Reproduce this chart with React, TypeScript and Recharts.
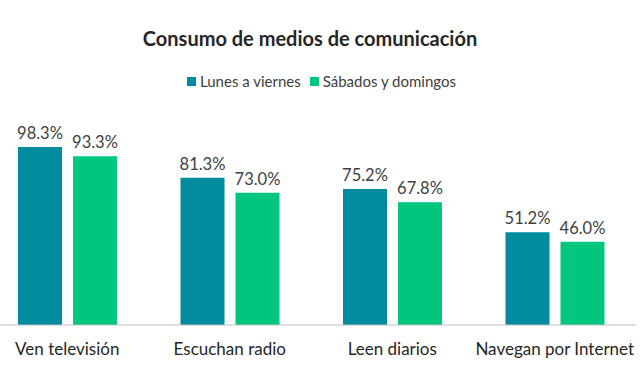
import React from 'react';
import { BarChart, Bar, XAxis, YAxis, LabelList } from 'recharts';

const categories = ['Ven televisión', 'Escuchan radio', 'Leen diarios', 'Navegan por Internet'];
const weekdays = [98.3, 81.3, 75.2, 51.2];
const weekends = [93.3, 73.0, 67.8, 46.0];

const seriesNames = ['Lunes a viernes', 'Sábados y domingos'];
const colors = ['#008C9E', '#00C77D'];

const data = categories.map((name, i) => ({
    name,
    weekdays: weekdays[i],
    weekends: weekends[i],
}));

const font = 'Lato, "Open Sans", sans-serif';

const fmt = (v: any) => `${Number(v).toFixed(1)}%`;

const App: React.FC = () => {
    return (
        <div style={{ position: 'absolute', left: -14, top: 0, width: 650, height: 380 }}>
            <div
                style={{
                    position: 'absolute',
                    left: 14,
                    width: 620,
                    top: 26,
                    textAlign: 'center',
                    fontFamily: font,
                    fontWeight: 700,
                    fontSize: 20,
                    color: '#262626',
                }}
            >
                Consumo de medios de comunicación
            </div>
            <div
                style={{
                    position: 'absolute',
                    left: 30,
                    width: 620,
                    top: 72,
                    display: 'flex',
                    justifyContent: 'center',
                    fontFamily: font,
                    fontSize: 15,
                    color: '#404040',
                }}
            >
                {seriesNames.map((s, i) => (
                    <div key={s} style={{ display: 'flex', alignItems: 'center', marginRight: 9 }}>
                        <span style={{ width: 9, height: 9, background: colors[i], display: 'inline-block', marginRight: 4 }} />
                        <span>{s}</span>
                    </div>
                ))}
            </div>
            <BarChart
                width={650}
                height={380}
                data={data}
                margin={{ top: 144, right: 0, left: 0, bottom: 0 }}
                barGap={11}
                barSize={44}
            >
                <XAxis
                    dataKey="name"
                    height={55}
                    tickLine={false}
                    axisLine={{ stroke: '#BFBFBF' }}
                    tick={{ fill: '#262626', fontSize: 17, fontFamily: font }}
                    tickMargin={12}
                    interval={0}
                />
                <YAxis hide domain={[0, 100]} />
                <Bar dataKey="weekdays" name={seriesNames[0]} fill={colors[0]} isAnimationActive={false}>
                    <LabelList dataKey="weekdays" position="top" formatter={fmt} fill="#404040" fontSize={16.5} fontFamily={font} offset={8} />
                </Bar>
                <Bar dataKey="weekends" name={seriesNames[1]} fill={colors[1]} isAnimationActive={false}>
                    <LabelList dataKey="weekends" position="top" formatter={fmt} fill="#404040" fontSize={16.5} fontFamily={font} offset={8} />
                </Bar>
            </BarChart>
        </div>
    );
};

export default App;
